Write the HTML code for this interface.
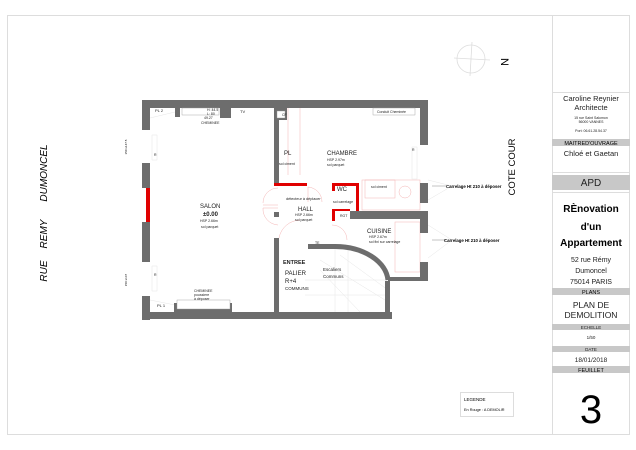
<!DOCTYPE html>
<html><head><meta charset="utf-8"><style>
html,body{margin:0;padding:0;background:#fff;}
svg{display:block;font-family:"Liberation Sans",sans-serif;}
</style></head><body>
<svg width="636" height="450" viewBox="0 0 636 450" xmlns="http://www.w3.org/2000/svg">
<!-- frame -->
<rect x="7.5" y="15.5" width="622" height="419" fill="none" stroke="#ddd" stroke-width="1"/>
<line x1="552.5" y1="15" x2="552.5" y2="434" stroke="#ddd"/>
<line x1="552" y1="92.5" x2="630" y2="92.5" stroke="#ddd"/>
<line x1="552" y1="172.5" x2="630" y2="172.5" stroke="#ddd"/>
<line x1="552" y1="192.5" x2="630" y2="192.5" stroke="#ddd"/>
<!-- title block -->
<g text-anchor="middle" fill="#222">
<text x="591" y="101" font-size="7.5">Caroline Reynier</text>
<text x="591" y="110" font-size="7.5">Architecte</text>
<text x="591" y="119" font-size="3.5">15 rue Saint Salomon</text>
<text x="591" y="123" font-size="3.5">56000 VANNES</text>
<text x="591" y="132" font-size="3.5">Port: 06.61.28.54.37</text>
<rect x="552" y="139" width="78" height="7" fill="#c8c8c8"/>
<text x="591" y="145" font-size="5.5" fill="#000">MAITRED'OUVRAGE</text>
<text x="591" y="156" font-size="7.5">Chloé et Gaetan</text>
<rect x="552" y="175" width="78" height="15" fill="#c8c8c8"/>
<text x="591" y="186" font-size="10">APD</text>
<text x="591" y="212" font-size="10" font-weight="bold" fill="#000">RÈnovation</text>
<text x="591" y="230" font-size="10" font-weight="bold" fill="#000">d'un</text>
<text x="591" y="246" font-size="10" font-weight="bold" fill="#000">Appartement</text>
<text x="591" y="262" font-size="7">52 rue Rémy</text>
<text x="591" y="273" font-size="7">Dumoncel</text>
<text x="591" y="284" font-size="7">75014 PARIS</text>
<rect x="552" y="288" width="78" height="7" fill="#c8c8c8"/>
<text x="591" y="294" font-size="5.5" fill="#000">PLANS</text>
<text x="591" y="308" font-size="8.5">PLAN DE</text>
<text x="591" y="318" font-size="8.5">DEMOLITION</text>
<rect x="552" y="324" width="78" height="6" fill="#c8c8c8"/>
<text x="591" y="329" font-size="4.5">ECHELLE</text>
<text x="591" y="339" font-size="4.5">1/50</text>
<rect x="552" y="346" width="78" height="6" fill="#c8c8c8"/>
<text x="591" y="351" font-size="4.5">DATE</text>
<text x="591" y="362" font-size="6.5">18/01/2018</text>
<rect x="552" y="366" width="78" height="7" fill="#c8c8c8"/>
<text x="591" y="372" font-size="5.5" fill="#000">FEUILLET</text>
<text x="591" y="423" font-size="40" fill="#000">3</text>
</g>
<!-- legend -->
<rect x="460.5" y="392.5" width="53" height="24" fill="#fff" stroke="#ddd"/>
<text x="464" y="401" font-size="4.5">LEGENDE</text>
<text x="464" y="411" font-size="3.8">En Rouge : A DEMOLIR</text>
<!-- compass -->
<g stroke="#ddd" fill="none" stroke-width="0.8">
<circle cx="471" cy="59" r="14"/>
<line x1="454" y1="58" x2="490" y2="60"/>
<line x1="472" y1="42" x2="470" y2="76"/>
</g>
<text x="504" y="62" font-size="11" transform="rotate(90 504 62)" text-anchor="middle" dominant-baseline="middle">N</text>
<!-- side labels -->
<text x="47" y="271" font-size="10" font-style="italic" transform="rotate(-90 47 271)" text-anchor="middle">RUE</text>
<text x="47" y="234" font-size="10" font-style="italic" transform="rotate(-90 47 234)" text-anchor="middle">REMY</text>
<text x="47" y="173" font-size="10" font-style="italic" transform="rotate(-90 47 173)" text-anchor="middle">DUMONCEL</text>
<text x="515" y="167" font-size="9.5" transform="rotate(-90 515 167)" text-anchor="middle">COTE COUR</text>
<text x="127" y="147" font-size="3" transform="rotate(-90 127 147)" text-anchor="middle">150 x147.5</text>
<text x="127" y="280" font-size="3" transform="rotate(-90 127 280)" text-anchor="middle">150 x147</text>
<!-- red fine lines (furniture) -->
<g stroke="#f4b4b4" fill="none" stroke-width="0.5">
<path d="M263 203 A15 15 0 0 1 278 188 M263 205 L278 205 M263 208 L278 208 M263 208 A16 16 0 0 0 278 225"/>
<path d="M279 238 A22 22 0 0 1 300 220"/>
<path d="M308 187 A15 15 0 0 1 322 202 M308 187 L308 202"/>
<path d="M332 225 A15 15 0 0 1 347 240"/>
<path d="M288 108 L288 175 M300 108 L300 175"/>
<rect x="362" y="180" width="58" height="30"/>
<circle cx="405" cy="192" r="6"/>
<rect x="395" y="222" width="25" height="50"/>
<rect x="365" y="180" width="30" height="18"/>
</g>
<g stroke="#e6e6e6" fill="none" stroke-width="0.5">
<path d="M335 249 L335 312 M348 249 L348 312 M320 260 L385 300 M320 270 L360 312 M340 255 L388 290 M305 280 L388 280 M305 295 L388 295"/>
<path d="M150 118 L175 112 M150 300 L175 305"/>
<rect x="152" y="135" width="5" height="25"/>
<rect x="152" y="266" width="5" height="25"/>
<rect x="412" y="147" width="5" height="32"/>
<path d="M428 180 L452 186 L428 200 M428 225 L452 240 L428 258"/>
</g>
<line x1="432" y1="186" x2="446" y2="186" stroke="#888" stroke-width="0.5"/>
<line x1="432" y1="240" x2="446" y2="240" stroke="#888" stroke-width="0.5"/>
<text x="446" y="188" font-size="4.3" font-weight="bold">Carrelage Ht 210 à déposer</text>
<text x="444" y="242" font-size="4.3" font-weight="bold">Carrelage Ht 210 à déposer</text>
<!-- walls -->
<g fill="#6d6d6d">
<rect x="142" y="100" width="286" height="8"/>
<rect x="142" y="100" width="8" height="30"/>
<rect x="142" y="163" width="8" height="25"/>
<rect x="142" y="222" width="8" height="40"/>
<rect x="142" y="296" width="8" height="24"/>
<rect x="142" y="312" width="250" height="7"/>
<rect x="274" y="108" width="5" height="77"/>
<rect x="274" y="238" width="5" height="74"/>
<rect x="420" y="100" width="8" height="45"/>
<rect x="420" y="183" width="8" height="20"/>
<rect x="350" y="211" width="78" height="8"/>
<rect x="420" y="211" width="8" height="22"/>
<rect x="420" y="262" width="8" height="19"/>
<rect x="388" y="277" width="40" height="4"/>
<rect x="385" y="281" width="5" height="31"/>
<rect x="308" y="244" width="27" height="5"/>
<rect x="220" y="108" width="11" height="10"/>
<rect x="175" y="108" width="5" height="9"/>
<rect x="274" y="108" width="13" height="12"/>
<rect x="174" y="303" width="58" height="9"/>
<rect x="274" y="212" width="5" height="5"/>
</g>
<path d="M335 246.5 A53 36 0 0 1 388 280" fill="none" stroke="#6d6d6d" stroke-width="5"/>
<rect x="277" y="111" width="8" height="7" fill="#fff" stroke="#999" stroke-width="0.4"/>
<rect x="177" y="300" width="53" height="9" fill="#fff" stroke="#999" stroke-width="0.4"/>
<rect x="182" y="108" width="37" height="7" fill="#fff" stroke="#999" stroke-width="0.4"/>
<rect x="373" y="108" width="42" height="7" fill="#fff" stroke="#999" stroke-width="0.4"/>
<!-- red demolition -->
<g fill="#e00000">
<rect x="146" y="188" width="4" height="34"/>
<rect x="274" y="183" width="33" height="3"/>
<rect x="332" y="183" width="26" height="3"/>
<rect x="332" y="183" width="3" height="8"/>
<rect x="356" y="183" width="3" height="28"/>
<rect x="332" y="209" width="3" height="12"/>
<rect x="332" y="209" width="18" height="2"/>
</g>
<!-- texts -->
<g fill="#222">
<text x="155" y="112" font-size="4">PL 2</text>
<text x="207" y="111" font-size="3.5">H: 44.5</text>
<text x="207" y="115" font-size="3.5">L: 80</text>
<text x="204" y="119" font-size="3.5">49.27</text>
<text x="201" y="124" font-size="3.5">CHEMINEE</text>
<text x="240" y="113" font-size="4">TV</text>
<text x="282" y="116" font-size="3.5">CF</text>
<text x="377" y="113" font-size="3.5">Conduit Cheminée</text>
<text x="154" y="156" font-size="3.5">R</text>
<text x="154" y="276" font-size="3.5">R</text>
<text x="412" y="151" font-size="3.5">R</text>
<text x="284" y="155" font-size="6">PL</text>
<text x="279" y="165" font-size="3.5">sol ciment</text>
<text x="327" y="155" font-size="6">CHAMBRE</text>
<text x="327" y="161" font-size="3.5">HSP 2.97m</text>
<text x="327" y="166" font-size="3.5">sol parquet</text>
<text x="200" y="208" font-size="6">SALON</text>
<text x="203" y="216" font-size="6" font-weight="bold">±0.00</text>
<text x="200" y="222" font-size="3.5">HSP 2.66m</text>
<text x="201" y="228" font-size="3.5">sol parquet</text>
<text x="286" y="200" font-size="3.8">détecteur à déplacer</text>
<text x="298" y="211" font-size="6">HALL</text>
<text x="295" y="216" font-size="3.5">HSP 2.66m</text>
<text x="295" y="221" font-size="3.5">sol parquet</text>
<text x="337" y="191" font-size="6">WC</text>
<text x="333" y="203" font-size="3.5">sol carrelage</text>
<text x="371" y="188" font-size="3.5">sol ciment</text>
<text x="340" y="217" font-size="3.5">RGT</text>
<text x="367" y="233" font-size="6">CUISINE</text>
<text x="369" y="238" font-size="3.5">HSP 2.67m</text>
<text x="369" y="243" font-size="3.5">sol fini sur carrelage</text>
<text x="315" y="244" font-size="3.5">TE</text>
<text x="283" y="264" font-size="5.5" font-weight="bold">ENTREE</text>
<text x="285" y="275" font-size="6">PALIER</text>
<text x="285" y="283" font-size="6">R+4</text>
<text x="285" y="290" font-size="4.5">COMMUNS</text>
<text x="323" y="271" font-size="4.5">Escaliers</text>
<text x="323" y="278" font-size="4.5">Communs</text>
<text x="194" y="292" font-size="3.5">CHEMINEE</text>
<text x="194" y="296" font-size="3.5">poussiere</text>
<text x="194" y="300" font-size="3.5">à déposer</text>
<text x="157" y="307" font-size="4">PL 1</text>
</g>
</svg>
</body></html>
